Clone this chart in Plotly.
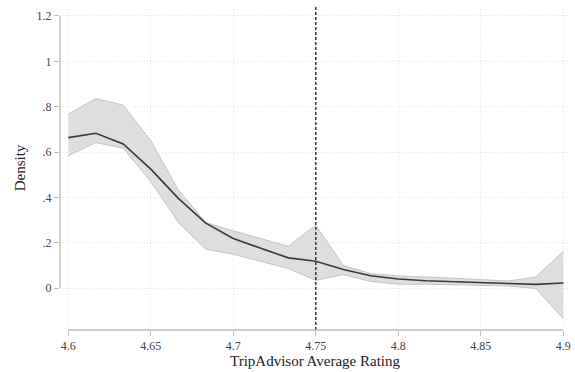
import plotly.graph_objects as go

# Kernel density estimate of TripAdvisor average rating with confidence band
rating = [4.6, 4.6167, 4.6333, 4.65, 4.6667, 4.6833, 4.7, 4.7167, 4.7333, 4.75,
          4.7667, 4.7833, 4.8, 4.8167, 4.8333, 4.85, 4.8667, 4.8833, 4.9]
density = [0.664, 0.683, 0.636, 0.525, 0.396, 0.287, 0.219, 0.175, 0.134, 0.119,
           0.083, 0.055, 0.041, 0.033, 0.028, 0.025, 0.021, 0.017, 0.023]
upper = [0.767, 0.836, 0.807, 0.650, 0.433, 0.290, 0.253, 0.220, 0.185, 0.278,
         0.100, 0.065, 0.054, 0.050, 0.045, 0.040, 0.032, 0.050, 0.163]
lower = [0.584, 0.642, 0.617, 0.470, 0.290, 0.172, 0.150, 0.120, 0.087, 0.035,
         0.060, 0.030, 0.018, 0.018, 0.015, 0.013, 0.010, -0.001, -0.134]

threshold = 4.75
x_ticks = [4.6, 4.65, 4.7, 4.75, 4.8, 4.85, 4.9]
x_labels = ["4.6", "4.65", "4.7", "4.75", "4.8", "4.85", "4.9"]
y_ticks = [0, 0.2, 0.4, 0.6, 0.8, 1.0, 1.2]
y_labels = ["0", ".2", ".4", ".6", ".8", "1", "1.2"]

band_edge = "#c4c4c4"
band_fill = "#dedede"
axis_col = "#bdbdbd"
grid_col = "#e2e2e2"
font_family = "Liberation Serif"

fig = go.Figure()
fig.add_trace(go.Scatter(x=rating, y=upper, mode="lines",
                         line=dict(color=band_edge, width=1), showlegend=False,
                         hoverinfo="skip"))
fig.add_trace(go.Scatter(x=rating, y=lower, mode="lines", fill="tonexty",
                         fillcolor=band_fill,
                         line=dict(color=band_edge, width=1), showlegend=False,
                         hoverinfo="skip"))
fig.add_trace(go.Scatter(x=rating, y=density, mode="lines",
                         line=dict(color="#3a3a3a", width=1.6), showlegend=False))

# threshold marker
fig.add_shape(type="line", xref="x", yref="paper", x0=threshold, x1=threshold,
              y0=0, y1=1, line=dict(color="#2a2a2a", width=1.4, dash="3px,2px"))

# axis lines spanning only the tick range
fig.add_shape(type="line", xref="x", yref="paper", x0=x_ticks[0], x1=x_ticks[-1],
              y0=0, y1=0, line=dict(color=axis_col, width=1.3))
fig.add_shape(type="line", xref="paper", yref="y", x0=0, x1=0,
              y0=y_ticks[0], y1=y_ticks[-1], line=dict(color=axis_col, width=1.3))

fig.update_layout(
    width=575, height=372,
    margin=dict(l=60, r=5, t=6, b=42),
    plot_bgcolor="white", paper_bgcolor="white",
    font=dict(family=font_family, color="#333333"),
    xaxis=dict(range=[4.59497, 4.90406], tickvals=x_ticks, ticktext=x_labels,
               showline=False, zeroline=False, ticks="outside", ticklen=5,
               tickcolor=axis_col, tickwidth=1.2,
               showgrid=True, gridcolor=grid_col, griddash="1px,2px", gridwidth=1,
               tickfont=dict(size=12, color="#444444"),
               title=dict(text="TripAdvisor Average Rating", standoff=2,
                          font=dict(size=15, color="#222222"))),
    yaxis=dict(range=[-0.184, 1.244], tickvals=y_ticks, ticktext=y_labels,
               showline=False, zeroline=False, ticks="outside", ticklen=5,
               tickcolor=axis_col, tickwidth=1.2,
               showgrid=True, gridcolor=grid_col, griddash="1px,2px", gridwidth=1,
               tickfont=dict(size=12, color="#444444"),
               title=dict(text="Density", standoff=7,
                          font=dict(size=15, color="#222222"))),
)

fig.write_html("out.html")
